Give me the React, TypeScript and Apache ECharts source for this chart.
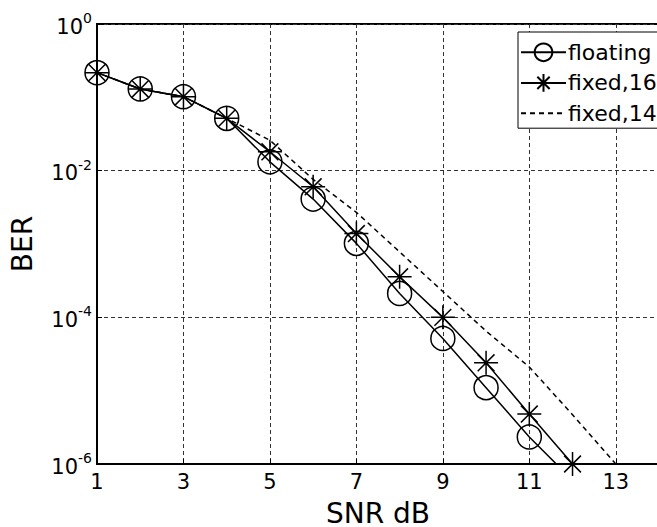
import React, { useEffect, useRef } from "react";
import * as echarts from "echarts";

const snr = [1, 2, 3, 4, 5, 6, 7, 8, 9, 10, 11, 12, 13];
const berFloating = [0.217, 0.13, 0.102, 0.0517, 0.0132, 0.0041, 1.02e-3, 2.12e-4, 5.15e-5, 1.1e-5, 2.34e-6, 6e-7];
const berFixed16 = [0.217, 0.13, 0.102, 0.0517, 0.0181, 6.03e-3, 1.39e-3, 3.57e-4, 1.0e-4, 2.4e-5, 4.8e-6, 1.0e-6];
const berFixed14 = [0.217, 0.13, 0.102, 0.0517, 0.026, 7.6e-3, 2.7e-3, 7.8e-4, 2.25e-4, 6.5e-5, 2.1e-5, 4.7e-6, 1.0e-6];
const seriesNames = ["floating", "fixed,16", "fixed,14"];
const xTicks = [1, 3, 5, 7, 9, 11, 13];

const STAR = "path://M0,-10L0,10M-10,0L10,0M-7,-7L7,7M-7,7L7,-7";
const FONT = "'DejaVu Sans', sans-serif";

function pairs(vals: number[]) {
  return vals.map((v, i) => [snr[i], v]);
}

export default function App() {
  const ref = useRef<HTMLDivElement>(null);
  useEffect(() => {
    const chart = echarts.init(ref.current!, null, { renderer: "svg" });
    chart.setOption({
      animation: false,
      backgroundColor: "#fff",
      textStyle: { fontFamily: FONT, color: "#000" },
      grid: {
        left: 97,
        right: -2,
        top: 24,
        bottom: 63,
        show: true,
        borderColor: "#000",
        borderWidth: 2,
        containLabel: false,
        outerBoundsMode: "none",
      },
      legend: {
        left: 518,
        top: 32,
        orient: "vertical",
        data: [
          { name: seriesNames[0] },
          { name: seriesNames[1] },
          { name: seriesNames[2], itemStyle: { color: "transparent", borderColor: "transparent", borderWidth: 0 } },
        ],
        itemWidth: 45,
        itemHeight: 22,
        itemGap: 8,
        padding: [9, 30, 4, 2],
        borderColor: "#000",
        borderWidth: 1,
        backgroundColor: "#fff",
        textStyle: { fontSize: 22, color: "#000", fontFamily: FONT, padding: [0, 0, 0, -3] },
      },
      xAxis: {
        type: "value",
        min: 1,
        max: 14,
        name: "SNR dB",
        nameLocation: "middle",
        nameGap: 34,
        nameTextStyle: { fontSize: 28, lineHeight: 30, color: "#000", fontFamily: FONT },
        axisLine: { show: true, lineStyle: { color: "#000", width: 2 } },
        axisTick: { show: true, inside: true, length: 5, customValues: xTicks, lineStyle: { color: "#000" } },
        axisLabel: { customValues: xTicks, fontSize: 21, color: "#000", margin: 7, fontFamily: FONT },
        splitLine: { show: true, lineStyle: { color: "#333", type: [4, 3], width: 1 } },
      },
      yAxis: {
        type: "log",
        logBase: 10,
        min: 1e-6,
        max: 1,
        interval: 2,
        name: "BER",
        nameLocation: "middle",
        nameGap: 61,
        nameRotate: 90,
        nameTextStyle: { fontSize: 28, color: "#000", fontFamily: FONT },
        axisLine: { show: true, lineStyle: { color: "#000", width: 2 } },
        axisTick: { show: true, inside: true, length: 5, lineStyle: { color: "#000" } },
        minorTick: { show: false },
        axisLabel: {
          margin: 5,
          fontSize: 21,
          color: "#000",
          fontFamily: FONT,
          formatter: (v: number) => `{b|10}{s|${Math.round(Math.log10(v))}}`,
          rich: {
            b: { fontSize: 21, fontFamily: FONT, color: "#000", verticalAlign: "bottom" },
            s: { fontSize: 14, fontFamily: FONT, color: "#000", verticalAlign: "top", padding: [0, 0, 12, 0] },
          },
        },
        splitLine: { show: true, lineStyle: { color: "#333", type: [4, 3], width: 1 } },
      },
      series: [
        {
          name: seriesNames[0],
          type: "line",
          data: pairs(berFloating),
          symbol: "circle",
          symbolSize: 24,
          lineStyle: { color: "#000", width: 1.5 },
          itemStyle: { color: "none", borderColor: "#000", borderWidth: 1.5 },
          clip: true,
        },
        {
          name: seriesNames[1],
          type: "line",
          data: pairs(berFixed16),
          symbol: STAR,
          symbolSize: 24,
          lineStyle: { color: "#000", width: 1.5 },
          itemStyle: { color: "none", borderColor: "#000", borderWidth: 1.5 },
          clip: true,
        },
        {
          name: seriesNames[2],
          type: "line",
          data: pairs(berFixed14),
          symbol: "none",
          lineStyle: { color: "#000", width: 1.5, type: [5, 4] },
          itemStyle: { color: "#000" },
          clip: true,
        },
      ],
    });
    return () => chart.dispose();
  }, []);
  return <div ref={ref} style={{ position: "fixed", left: 0, top: 0, width: 657, height: 527, background: "#fff" }} />;
}
